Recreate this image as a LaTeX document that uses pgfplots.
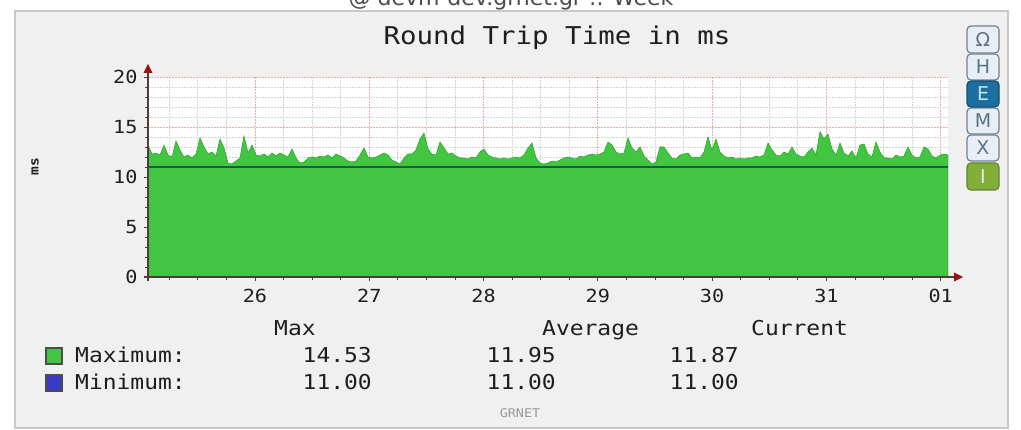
\documentclass[border=0pt]{standalone}
\usepackage{fontspec}
\usepackage{pgfplots}
\usepackage{pgfplotstable}
\pgfplotsset{compat=1.18}
\usetikzlibrary{arrows.meta}
\newfontfamily\mono[FakeStretch=1.12]{DejaVu Sans Mono}
\newfontfamily\dsans{DejaVu Sans}
\definecolor{panelbg}{RGB}{240,240,240}
\definecolor{panelbd}{RGB}{200,200,200}
\definecolor{areagreen}{RGB}{66,198,66}
\definecolor{areaedge}{RGB}{50,165,50}
\definecolor{minline}{RGB}{26,92,70}
\definecolor{axiscol}{RGB}{80,60,60}
\definecolor{arrowred}{RGB}{150,20,20}
\definecolor{majgrid}{RGB}{238,170,170}
\definecolor{mingrid}{RGB}{212,212,212}
\definecolor{legblue}{RGB}{58,58,200}
\definecolor{btnbg}{RGB}{232,238,244}
\definecolor{btnbd}{RGB}{110,130,150}
\definecolor{btntx}{RGB}{90,115,140}
\definecolor{btnblue}{RGB}{30,110,160}
\definecolor{btngreen}{RGB}{130,175,60}
\definecolor{txt}{RGB}{30,30,30}

\pgfplotstableread{
k v
0 13.2
1 12.3
2 12.4
3 12.2
4 13.2
5 12.2
6 12.0
7 13.6
8 12.7
9 12.0
10 12.2
11 11.9
12 12.3
13 13.9
14 13.0
15 12.3
16 12.5
17 12.1
18 13.8
19 12.9
20 11.4
21 11.3
22 11.6
23 11.9
24 14.1
25 12.4
26 13.2
27 12.2
28 12.1
29 12.3
30 12.0
31 12.4
32 12.1
33 12.4
34 12.2
35 12.0
36 12.8
37 11.9
38 11.4
39 11.5
40 11.9
41 12.0
42 11.9
43 12.1
44 12.0
45 12.2
46 11.9
47 12.3
48 12.1
49 11.9
50 11.6
51 11.5
52 11.6
53 12.2
54 12.9
55 12.0
56 11.9
57 12.0
58 12.2
59 12.4
60 12.2
61 11.7
62 11.5
63 11.3
64 11.9
65 12.3
66 12.3
67 12.7
68 13.8
69 14.4
70 12.8
71 12.3
72 12.2
73 13.5
74 12.9
75 12.3
76 12.4
77 12.1
78 11.9
79 11.9
80 11.8
81 12.0
82 11.9
83 12.5
84 12.8
85 12.2
86 12.0
87 11.9
88 11.8
89 11.9
90 11.8
91 11.9
92 12.0
93 11.9
94 12.2
95 12.9
96 13.4
97 11.9
98 11.4
99 11.3
100 11.4
101 11.6
102 11.5
103 11.7
104 11.9
105 12.0
106 11.9
107 11.8
108 12.1
109 12.0
110 12.2
111 12.3
112 12.2
113 12.3
114 12.5
115 13.5
116 13.2
117 12.5
118 12.3
119 12.4
120 13.9
121 12.9
122 12.5
123 13.0
124 12.1
125 11.7
126 11.3
127 11.5
128 13.0
129 13.0
130 12.4
131 11.9
132 11.8
133 12.2
134 12.3
135 12.4
136 11.9
137 12.0
138 11.9
139 12.5
140 14.0
141 12.7
142 13.8
143 12.5
144 12.1
145 11.9
146 12.0
147 11.8
148 11.9
149 11.8
150 11.9
151 11.9
152 12.1
153 12.0
154 12.2
155 13.4
156 12.7
157 12.2
158 12.1
159 12.5
160 12.3
161 13.0
162 12.3
163 12.1
164 12.0
165 12.5
166 12.9
167 12.2
168 14.53
169 13.8
170 14.3
171 12.8
172 12.2
173 13.4
174 12.4
175 12.1
176 12.6
177 11.9
178 13.2
179 13.3
180 12.3
181 12.0
182 13.5
183 12.5
184 11.9
185 11.9
186 11.8
187 12.2
188 12.0
189 12.1
190 13.0
191 12.2
192 11.9
193 12.0
194 13.0
195 12.8
196 12.1
197 11.9
198 12.2
199 12.3
200 12.2
}\maxdata

\begin{document}
\begin{tikzpicture}
\useasboundingbox (0pt,0pt) rectangle (1021pt,-430pt);
\begin{scope}[x=1pt,y=-1pt]
  \fill[white] (0,0) rectangle (1021,430);
  \filldraw[fill=panelbg, draw=panelbd, line width=2pt] (15,11) rectangle (1008,428);
  \node[anchor=base, text=txt!80, font=\dsans\fontsize{22}{24}\selectfont] at (511,6) {@ devm-dev.grnet.gr :: Week};
\end{scope}

\begin{axis}[
  at={(148pt,-277pt)}, anchor=south west,
  scale only axis, width=800pt, height=200pt,
  xmin=25.064, xmax=32.064, ymin=0, ymax=20,
  axis line style={draw=none},
  axis background/.style={fill=white},
  xtick={26,27,28,29,30,31,32},
  xticklabels={26,27,28,29,30,31,01},
  minor xtick={25.25,25.5,25.75,26.25,26.5,26.75,27.25,27.5,27.75,28.25,28.5,28.75,29.25,29.5,29.75,30.25,30.5,30.75,31.25,31.5,31.75},
  ytick={0,5,10,15,20},
  minor ytick={1,2,3,4,6,7,8,9,11,12,13,14,16,17,18,19},
  grid=both,
  major grid style={draw=majgrid, line width=0.7pt, dash pattern=on 1.5pt off 1.5pt},
  minor grid style={draw=mingrid, line width=0.7pt, dash pattern=on 1.5pt off 1.5pt},
  tick pos=left, tick align=outside,
  major tick length=4pt, minor tick length=3pt,
  tick style={draw=axiscol, line width=0.8pt},
  /pgf/number format/assume math mode=true,
  ticklabel style={font=\mono\fontsize{18}{20}\selectfont, text=txt},
  xticklabel style={yshift=-5pt},
  yticklabel style={xshift=-3pt},
]
\addplot[fill=areagreen, draw=areaedge, line width=0.6pt]
  table[x expr=25.064+0.035*\thisrow{k}, y=v] {\maxdata} \closedcycle;
\addplot[minline, line width=2.6pt] coordinates {(25.064,11) (32.064,11)};
\end{axis}

\begin{scope}[x=1pt,y=-1pt]
  % axes with arrows
  \draw[axiscol, line width=1.2pt] (144,277) -- (954,277);
  \fill[arrowred] (954,272.5) -- (963,277) -- (954,281.5) -- cycle;
  \draw[axiscol, line width=1.2pt] (148,281) -- (148,73);
  \fill[arrowred] (143.5,73) -- (148,64) -- (152.5,73) -- cycle;
  % title
  \node[anchor=base, text=txt, font=\mono\fontsize{24.5}{27}\selectfont] at (557,45) {Round Trip Time in ms};
  % y label
  \node[rotate=90, text=txt, font=\mono\bfseries\fontsize{13}{14}\selectfont] at (35,167) {ms};
  % legend
  \begin{scope}[font=\mono\fontsize{20.5}{22}\selectfont, text=txt]
    \node[anchor=base west, inner sep=0] at (274,336) {Max};
    \node[anchor=base west, inner sep=0] at (542,336) {Average};
    \node[anchor=base west, inner sep=0] at (751,336) {Current};
    \node[anchor=base west, inner sep=0] at (75,363) {Maximum:};
    \node[anchor=base west, inner sep=0] at (75,390) {Minimum:};
    \node[anchor=base east, inner sep=0] at (372,363) {14.53};
    \node[anchor=base east, inner sep=0] at (556,363) {11.95};
    \node[anchor=base east, inner sep=0] at (739,363) {11.87};
    \node[anchor=base east, inner sep=0] at (372,390) {11.00};
    \node[anchor=base east, inner sep=0] at (556,390) {11.00};
    \node[anchor=base east, inner sep=0] at (739,390) {11.00};
  \end{scope}
  \filldraw[fill=areagreen, draw=black!70, line width=1.2pt] (46,348) rectangle (62,364);
  \filldraw[fill=legblue, draw=black!70, line width=1.2pt] (46,375) rectangle (62,391);
  \node[anchor=base, text=black!40, font=\mono\fontsize{12}{13}\selectfont] at (520,418) {GRNET};
  % buttons
  \foreach \ya/\yb/\lab in {26/53/Ω,54/80/H,108/134/M,135/161/X} {
    \filldraw[fill=btnbg, draw=btnbd, line width=1.2pt, rounded corners=4pt] (967,\ya) rectangle (999,\yb);
    \node[text=btntx, font=\dsans\fontsize{19}{20}\selectfont] at (983,{(\ya+\yb)/2}) {\lab};
  }
  \filldraw[fill=btnblue, draw=btnblue!70!black, line width=1.2pt, rounded corners=4pt] (967,81) rectangle (999,107);
  \node[text=cyan!25, font=\dsans\fontsize{19}{20}\selectfont] at (983,94) {E};
  \filldraw[fill=btngreen, draw=btngreen!75!black, line width=1.2pt, rounded corners=4pt] (967,163) rectangle (999,190);
  \node[text=white!80!btngreen, font=\dsans\fontsize{19}{20}\selectfont] at (983,176.5) {I};
\end{scope}
\end{tikzpicture}
\end{document}
